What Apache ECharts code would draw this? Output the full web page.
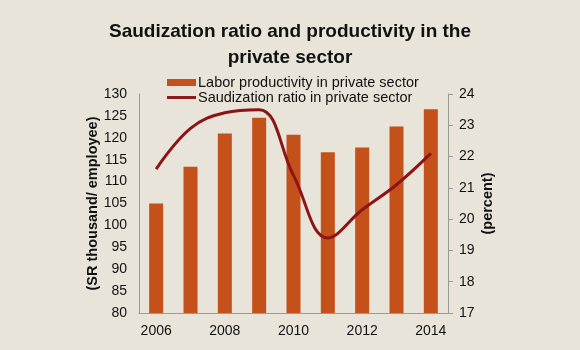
<!DOCTYPE html>
<html>
<head>
<meta charset="utf-8">
<script src="https://cdn.jsdelivr.net/npm/echarts@6/dist/echarts.min.js"></script>
<style>
  html, body { margin: 0; padding: 0; background: #e9e4da; }
  #chart { width: 580px; height: 350px; }
</style>
</head>
<body>
<div id="chart"></div>
<script>
// values
var years = ['2006', '2007', '2008', '2009', '2010', '2011', '2012', '2013', '2014'];
var productivity = [105, 113.4, 121, 124.6, 120.7, 116.7, 117.8, 122.6, 126.5];
var saudization = [21.6, 22.9, 23.4, 23.5, 21.4, 19.4, 20.3, 21.1, 22.1];

var font = 'Liberation Sans, Arial, sans-serif';

var chart = echarts.init(document.getElementById('chart'));
chart.setOption({
  animation: false,
  backgroundColor: '#e9e4da',
  textStyle: { fontFamily: font },
  title: {
    text: 'Saudization ratio and productivity in the\nprivate sector',
    left: 285,
    top: 14,
    textAlign: 'center',
    textStyle: { fontSize: 19, fontWeight: 'bold', color: '#111', lineHeight: 26, fontFamily: font }
  },
  legend: {
    orient: 'vertical',
    left: 162,
    top: 70,
    itemWidth: 29,
    itemHeight: 7,
    itemGap: 0,
    textStyle: { fontSize: 14.5, color: '#111', padding: [0, 0, 0, -3], lineHeight: 15, fontFamily: font },
    data: [
      { name: 'Labor productivity in private sector', icon: 'rect' },
      { name: 'Saudization ratio in private sector', icon: 'path://M0,0H30V3H0Z' }
    ]
  },
  grid: { left: 139, right: 132, top: 94, bottom: 37 },
  xAxis: {
    type: 'category',
    data: years,
    axisLine: { lineStyle: { color: '#999' } },
    axisTick: { show: false },
    axisLabel: { interval: 1, color: '#111', fontSize: 14, margin: 11 }
  },
  yAxis: [
    {
      type: 'value',
      min: 80, max: 130, interval: 5,
      name: '(SR thousand/ employee)',
      nameLocation: 'middle',
      nameRotate: 90,
      nameGap: 39,
      nameMoveOverlap: false,
      nameTextStyle: { fontSize: 14.5, fontWeight: 'bold', color: '#111' },
      axisLine: { show: true, lineStyle: { color: '#999' } },
      axisTick: { show: false },
      splitLine: { show: false },
      axisLabel: { color: '#111', fontSize: 14, margin: 12 }
    },
    {
      type: 'value',
      min: 17, max: 24, interval: 1,
      name: '(percent)',
      nameLocation: 'middle',
      nameRotate: 90,
      nameGap: 32,
      nameMoveOverlap: false,
      nameTextStyle: { fontSize: 14.5, fontWeight: 'bold', color: '#111' },
      axisLine: { show: true, lineStyle: { color: '#999' } },
      axisTick: { show: true, inside: false, length: 5, lineStyle: { color: '#999' } },
      splitLine: { show: false },
      axisLabel: { color: '#111', fontSize: 14, margin: 11 }
    }
  ],
  series: [
    {
      name: 'Labor productivity in private sector',
      type: 'bar',
      data: productivity,
      barWidth: 14,
      itemStyle: { color: '#c4501a' }
    },
    {
      name: 'Saudization ratio in private sector',
      type: 'line',
      yAxisIndex: 1,
      data: saudization,
      smooth: 0.4,
      symbol: 'none',
      lineStyle: { color: '#8b1414', width: 3 },
      itemStyle: { color: '#8b1414' }
    }
  ]
});
</script>
</body>
</html>
